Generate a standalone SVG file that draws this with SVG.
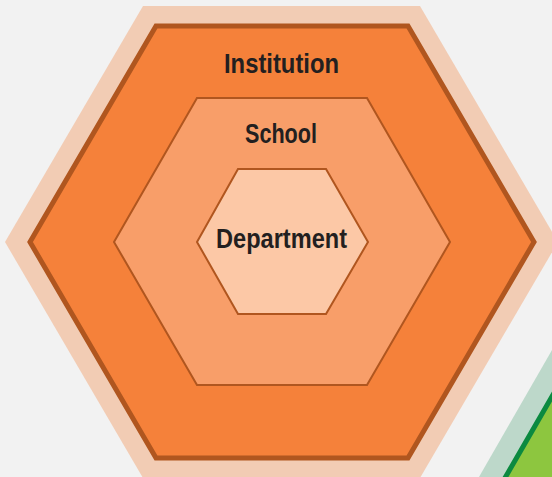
<svg xmlns="http://www.w3.org/2000/svg" width="552" height="477" viewBox="0 0 552 477">
<style>
.lbl{font-family:"Liberation Sans",Arial,sans-serif;font-weight:bold;font-size:27px;fill:#231f20;text-anchor:middle}
.ln{stroke:#b0561f;stroke-linejoin:miter}
</style>
<rect width="552" height="477" fill="#f2f2f2"/>
<g id="green-shape">
<polygon points="471.5,490 563.5,330 600,330 600,490" fill="#bdd8ca"/>
<polygon points="498,490 580,348 620,348 620,490" fill="#8dc63f" stroke="#0b8a40" stroke-width="5"/>
</g>
<g id="institution">
<polygon points="5,242 143,6 420,6 558,242 420,478 143,478" fill="#f2ccb4"/>
<polygon class="ln" points="30,242 156,26 408,26 534,242 408,458 156,458" fill="#f5813a" stroke-width="5"/>
<text class="lbl" x="281.5" y="73" textLength="115" lengthAdjust="spacingAndGlyphs">Institution</text>
</g>
<g id="school">
<polygon class="ln" points="114,242 197,98 367,98 450,242 367,385 197,385" fill="#f89e69" stroke-width="2"/>
<text class="lbl" x="281" y="143" textLength="72" lengthAdjust="spacingAndGlyphs">School</text>
</g>
<g id="department">
<polygon class="ln" points="197,242 238,169 326,169 368,242 326,314 238,314" fill="#fcc8a6" stroke-width="2"/>
<text class="lbl" x="281.5" y="248" textLength="131" lengthAdjust="spacingAndGlyphs">Department</text>
</g>
<g id="connectors"></g>
</svg>
